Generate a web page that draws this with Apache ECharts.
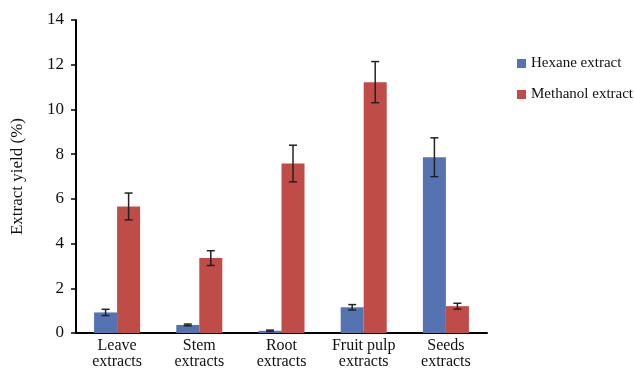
<!DOCTYPE html>
<html><head><meta charset="utf-8">
<script src="https://cdn.jsdelivr.net/npm/echarts@6/dist/echarts.min.js"></script>
<style>html,body{margin:0;padding:0;background:#fff}#c{width:634px;height:369px}</style>
</head><body><div id="c"></div>
<script>
var categories = ['Leave\nextracts', 'Stem\nextracts', 'Root\nextracts', 'Fruit pulp\nextracts', 'Seeds\nextracts'];
var hexane = [0.92, 0.36, 0.10, 1.15, 7.86];
var hexaneErr = [0.14, 0.04, 0.03, 0.12, 0.87];
var methanol = [5.66, 3.35, 7.58, 11.22, 1.20];
var methanolErr = [0.60, 0.33, 0.82, 0.92, 0.13];
var yTicks = {min: 0, max: 14, interval: 2};

var FONT = 'Liberation Serif';
var BARFRAC = 0.28;

function errSeries(vals, errs, sign) {
  return {
    type: 'custom',
    z: 10,
    silent: true,
    data: vals.map(function (v, i) { return [i, v, errs[i]]; }),
    renderItem: function (params, api) {
      var i = api.value(0), v = api.value(1), e = api.value(2);
      var band = api.size([1, 0])[0];
      var off = sign * band * BARFRAC / 2;
      var top = api.coord([i, v + e]);
      var bot = api.coord([i, v - e]);
      var x = top[0] + off;
      var cap = 4;
      var st = {stroke: '#222', lineWidth: 1.5};
      return {type: 'group', children: [
        {type: 'line', shape: {x1: x, y1: top[1], x2: x, y2: bot[1]}, style: st},
        {type: 'line', shape: {x1: x - cap, y1: top[1], x2: x + cap, y2: top[1]}, style: st},
        {type: 'line', shape: {x1: x - cap, y1: bot[1], x2: x + cap, y2: bot[1]}, style: st}
      ]};
    }
  };
}

var chart = echarts.init(document.getElementById('c'));
chart.setOption({
  animation: false,
  textStyle: {fontFamily: FONT},
  grid: {left: 76, right: 147, top: 20, bottom: 36, containLabel: false, outerBoundsMode: 'none'},
  legend: {
    orient: 'vertical', left: 512, top: 51, itemWidth: 9, itemHeight: 9, itemGap: 16,
    icon: 'rect',
    textStyle: {fontFamily: FONT, fontSize: 15, color: '#111'},
    data: ['Hexane extract', 'Methanol extract']
  },
  xAxis: {
    type: 'category', data: categories,
    axisLine: {lineStyle: {color: '#000', width: 2}},
    axisTick: {show: false},
    axisLabel: {interval: 0, hideOverlap: false, fontFamily: FONT, fontSize: 16, color: '#111', lineHeight: 16, margin: 5}
  },
  yAxis: {
    type: 'value', min: yTicks.min, max: yTicks.max, interval: yTicks.interval,
    name: 'Extract yield (%)', nameLocation: 'middle', nameGap: 50,
    nameTextStyle: {fontFamily: FONT, fontSize: 17, color: '#111'},
    axisLine: {show: true, lineStyle: {color: '#000', width: 2}},
    axisTick: {show: true, length: 5, lineStyle: {color: '#000', width: 1.5}},
    axisLabel: {fontFamily: FONT, fontSize: 17, color: '#111', margin: 12},
    splitLine: {show: false}
  },
  series: [
    {name: 'Hexane extract', type: 'bar', data: hexane, barWidth: (BARFRAC * 100) + '%', barGap: '0%',
     itemStyle: {color: '#5573b1'}},
    {name: 'Methanol extract', type: 'bar', data: methanol, barWidth: (BARFRAC * 100) + '%', barGap: '0%',
     itemStyle: {color: '#bf4c47'}},
    errSeries(hexane, hexaneErr, -1),
    errSeries(methanol, methanolErr, 1)
  ]
});
</script></body></html>
